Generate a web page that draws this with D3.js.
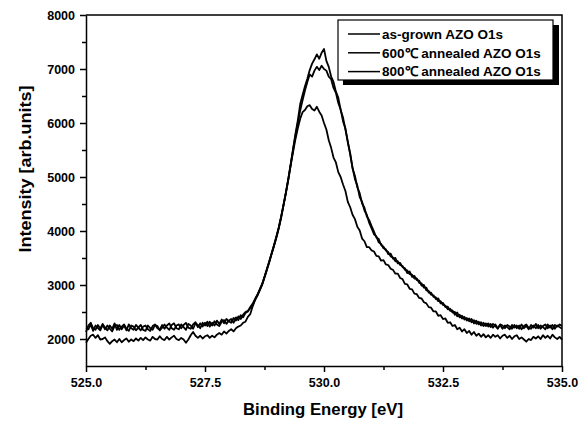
<!DOCTYPE html>
<html>
<head>
<meta charset="utf-8">
<script src="https://cdn.jsdelivr.net/npm/d3@7"></script>
<style>
  body { margin: 0; background: #fff; }
  text { font-family: "Liberation Sans", Arial, sans-serif; font-weight: bold; fill: #000; }
</style>
</head>
<body>
<script>
// binding energy grid, 525.0 .. 535.0 eV every 0.05 eV
var energies = d3.range(0, 201).map(function(i) { return 525 + i * 0.05; });

// as-grown AZO O1s
var asGrown = [
  2130, 2250, 2300, 2200, 2170, 2260, 2190, 2280, 2210, 2160,
  2250, 2190, 2290, 2170, 2260, 2180, 2250, 2160, 2270, 2200,
  2170, 2260, 2210, 2160, 2230, 2250, 2180, 2150, 2240, 2270,
  2200, 2170, 2260, 2190, 2250, 2290, 2200, 2170, 2250, 2270,
  2200, 2260, 2300, 2210, 2190, 2270, 2310, 2220, 2290, 2230,
  2300, 2240, 2320, 2250, 2330, 2270, 2240, 2320, 2350, 2280,
  2340, 2370, 2300, 2400, 2350, 2440, 2400, 2480, 2510, 2570,
  2630, 2720, 2800, 2900, 3000, 3140, 3280, 3420, 3580, 3720,
  3880, 4050, 4250, 4480, 4700, 4950, 5230, 5520, 5800, 6050,
  6350, 6520, 6680, 6820, 6980, 7100, 7180, 7270, 7190, 7300,
  7370, 7150, 7040, 6860, 6760, 6580, 6470, 6240, 6100, 5880,
  5660, 5420, 5170, 4960, 4840, 4630, 4540, 4380, 4300, 4150,
  4050, 3940, 3900, 3790, 3760, 3680, 3660, 3570, 3580, 3490,
  3500, 3400, 3410, 3330, 3310, 3220, 3250, 3150, 3170, 3090,
  3080, 2990, 3000, 2900, 2890, 2820, 2810, 2740, 2750, 2660,
  2670, 2590, 2600, 2520, 2530, 2450, 2490, 2400, 2430, 2360,
  2390, 2330, 2370, 2290, 2340, 2270, 2310, 2240, 2290, 2230,
  2280, 2210, 2270, 2200, 2260, 2190, 2250, 2220, 2180, 2260,
  2210, 2250, 2190, 2270, 2200, 2240, 2180, 2260, 2210, 2280,
  2200, 2250, 2220, 2180, 2270, 2210, 2260, 2190, 2250, 2220,
  2190
];

// 600 C annealed AZO O1s
var annealed600 = [
  2200, 2180, 2270, 2150, 2250, 2200, 2160, 2260, 2180, 2250,
  2190, 2140, 2240, 2260, 2170, 2230, 2270, 2190, 2150, 2250,
  2230, 2160, 2210, 2260, 2170, 2150, 2250, 2200, 2170, 2260,
  2240, 2160, 2210, 2270, 2210, 2170, 2260, 2290, 2200, 2180,
  2270, 2220, 2170, 2280, 2250, 2190, 2290, 2260, 2200, 2300,
  2250, 2320, 2230, 2300, 2250, 2340, 2280, 2360, 2290, 2370,
  2330, 2300, 2390, 2340, 2420, 2370, 2450, 2500, 2520, 2590,
  2650, 2740, 2820, 2910, 3010, 3150, 3290, 3440, 3590, 3740,
  3900, 4070, 4270, 4490, 4720, 4970, 5240, 5500, 5760, 6000,
  6230, 6420, 6600, 6760, 6900, 6860, 6970, 7040, 6980, 7060,
  7000, 6970, 6860, 6810, 6650, 6560, 6370, 6250, 6030, 5900,
  5640, 5440, 5160, 5020, 4810, 4700, 4510, 4430, 4270, 4200,
  4090, 3990, 3880, 3850, 3740, 3710, 3640, 3610, 3530, 3510,
  3440, 3440, 3370, 3350, 3280, 3270, 3200, 3190, 3120, 3120,
  3040, 3030, 2950, 2950, 2860, 2860, 2780, 2770, 2700, 2700,
  2630, 2620, 2550, 2560, 2490, 2500, 2420, 2450, 2380, 2410,
  2340, 2380, 2310, 2350, 2280, 2320, 2250, 2300, 2240, 2290,
  2220, 2280, 2240, 2190, 2270, 2250, 2200, 2260, 2230, 2190,
  2260, 2200, 2250, 2180, 2240, 2270, 2210, 2190, 2250, 2200,
  2260, 2190, 2240, 2270, 2200, 2250, 2180, 2260, 2230, 2270,
  2240
];

// 800 C annealed AZO O1s
var annealed800 = [
  1930, 2000, 2060, 2080, 2020, 2070, 1990, 2000, 2030, 1960,
  1910, 1960, 1990, 1940, 2000, 1940, 1980, 2010, 1950, 1990,
  1960, 2010, 1970, 2020, 1980, 2030, 1990, 1970, 2040, 2000,
  1990, 2050, 2000, 1980, 2040, 1990, 2030, 2060, 2000, 1980,
  2020, 1990, 1930, 1990, 2070, 2130, 2060, 2020, 2060, 2010,
  2050, 2070, 2020, 2060, 2030, 2080, 2110, 2080, 2140, 2100,
  2150, 2180, 2140, 2200, 2230, 2250, 2300, 2320, 2410, 2460,
  2600, 2720, 2810, 2920, 3020, 3150, 3290, 3430, 3580, 3730,
  3890, 4060, 4260, 4480, 4710, 4950, 5210, 5460, 5700, 5900,
  6080, 6200, 6240, 6310, 6330, 6260, 6230, 6300, 6210, 6140,
  6000, 5880, 5680, 5540, 5360, 5270, 5090, 5000, 4860, 4740,
  4540, 4440, 4300, 4220, 4080, 4010, 3860, 3810, 3700, 3700,
  3640, 3620, 3540, 3530, 3450, 3460, 3380, 3370, 3300, 3280,
  3210, 3210, 3130, 3110, 3020, 3010, 2930, 2920, 2840, 2830,
  2760, 2750, 2680, 2660, 2590, 2580, 2510, 2510, 2430, 2440,
  2370, 2380, 2300, 2310, 2240, 2260, 2180, 2210, 2140, 2180,
  2110, 2150, 2080, 2130, 2060, 2100, 2040, 2090, 2030, 2070,
  2020, 2080, 2040, 2070, 2010, 2060, 2080, 2020, 2060, 2000,
  2050, 2070, 2000, 2030, 1990, 1950, 2000, 1980, 2040, 2010,
  2050, 2000, 2070, 2020, 2060, 2010, 2080, 2030, 2000, 2040,
  1990
];

var seriesNames = ['as-grown AZO O1s', '600\u2103 annealed AZO O1s', '800\u2103 annealed AZO O1s'];
var seriesValues = [asGrown, annealed600, annealed800];

var xTicks = [525, 527.5, 530, 532.5, 535];
var xMinor = [526.25, 528.75, 531.25, 533.75];
var yTicks = [2000, 3000, 4000, 5000, 6000, 7000, 8000];
var yMinor = [2500, 3500, 4500, 5500, 6500, 7500];

var width = 580, height = 425;
var plotL = 86, plotR = 562, plotT = 15, plotB = 366;

var svg = d3.select('body').append('svg')
  .attr('width', width)
  .attr('height', height);

var x = d3.scaleLinear().domain([525, 535]).range([plotL, plotR]);
var y = d3.scaleLinear().domain([1500, 8000]).range([plotB, plotT]);

// minor ticks first
svg.append('g')
  .attr('transform', 'translate(0,' + plotB + ')')
  .call(d3.axisBottom(x).tickValues(xMinor).tickSize(4).tickFormat(''))
  .call(function(g) { g.select('.domain').remove(); });
svg.append('g')
  .attr('transform', 'translate(' + plotL + ',0)')
  .call(d3.axisLeft(y).tickValues(yMinor).tickSize(4).tickFormat(''))
  .call(function(g) { g.select('.domain').remove(); });

svg.append('g')
  .attr('transform', 'translate(0,' + plotB + ')')
  .call(d3.axisBottom(x).tickValues(xTicks).tickSize(6).tickSizeOuter(0).tickPadding(6).tickFormat(d3.format('.1f')));
svg.append('g')
  .attr('transform', 'translate(' + plotL + ',0)')
  .call(d3.axisLeft(y).tickValues(yTicks).tickSize(6).tickSizeOuter(0).tickPadding(5).tickFormat(d3.format('d')));

svg.selectAll('.tick line').attr('stroke', '#000').attr('stroke-width', 1.5);
svg.selectAll('.domain').attr('stroke', '#000').attr('stroke-width', 1.5);
svg.selectAll('.tick text')
  .style('font-family', '"Liberation Sans", Arial, sans-serif')
  .style('font-weight', 'bold')
  .style('font-size', '12.5px')
  .attr('fill', '#000');

// frame: top and right
svg.append('path')
  .attr('d', 'M' + plotL + ',' + plotT + 'H' + plotR + 'V' + plotB)
  .attr('fill', 'none')
  .attr('stroke', '#000')
  .attr('stroke-width', 1.5);

var line = d3.line()
  .x(function(d, i) { return x(energies[i]); })
  .y(function(d) { return y(d); });

svg.selectAll('path.curve')
  .data(seriesValues)
  .enter()
    .append('path')
    .attr('class', 'curve')
    .attr('d', line)
    .attr('fill', 'none')
    .attr('stroke', '#000')
    .attr('stroke-width', 1.8)
    .attr('stroke-linejoin', 'round');

// legend with drop shadow
var lg = svg.append('g');
lg.append('rect')
  .attr('x', 343).attr('y', 25).attr('width', 216).attr('height', 60)
  .attr('fill', '#000');
lg.append('rect')
  .attr('x', 338).attr('y', 20).attr('width', 215).attr('height', 60)
  .attr('fill', '#fff').attr('stroke', '#000').attr('stroke-width', 1.2);

lg.selectAll('line.key')
  .data(seriesNames)
  .enter()
    .append('line')
    .attr('class', 'key')
    .attr('x1', 348).attr('x2', 380)
    .attr('y1', function(d, i) { return 34 + i * 18.8; })
    .attr('y2', function(d, i) { return 34 + i * 18.8; })
    .attr('stroke', '#000')
    .attr('stroke-width', 1.5);

lg.selectAll('text.key')
  .data(seriesNames)
  .enter()
    .append('text')
    .attr('class', 'key')
    .attr('x', 382)
    .attr('y', function(d, i) { return 38.8 + i * 18.8; })
    .style('font-size', '13.5px')
    .text(function(d) { return d; });

// axis titles
svg.append('text')
  .attr('x', 323)
  .attr('y', 415)
  .attr('text-anchor', 'middle')
  .attr('textLength', 160)
  .attr('lengthAdjust', 'spacingAndGlyphs')
  .style('font-size', '16px')
  .text('Binding Energy [eV]');

svg.append('text')
  .attr('transform', 'translate(31,169) rotate(-90)')
  .attr('text-anchor', 'middle')
  .attr('textLength', 167)
  .attr('lengthAdjust', 'spacingAndGlyphs')
  .style('font-size', '16.5px')
  .text('Intensity [arb.units]');
</script>
</body>
</html>
